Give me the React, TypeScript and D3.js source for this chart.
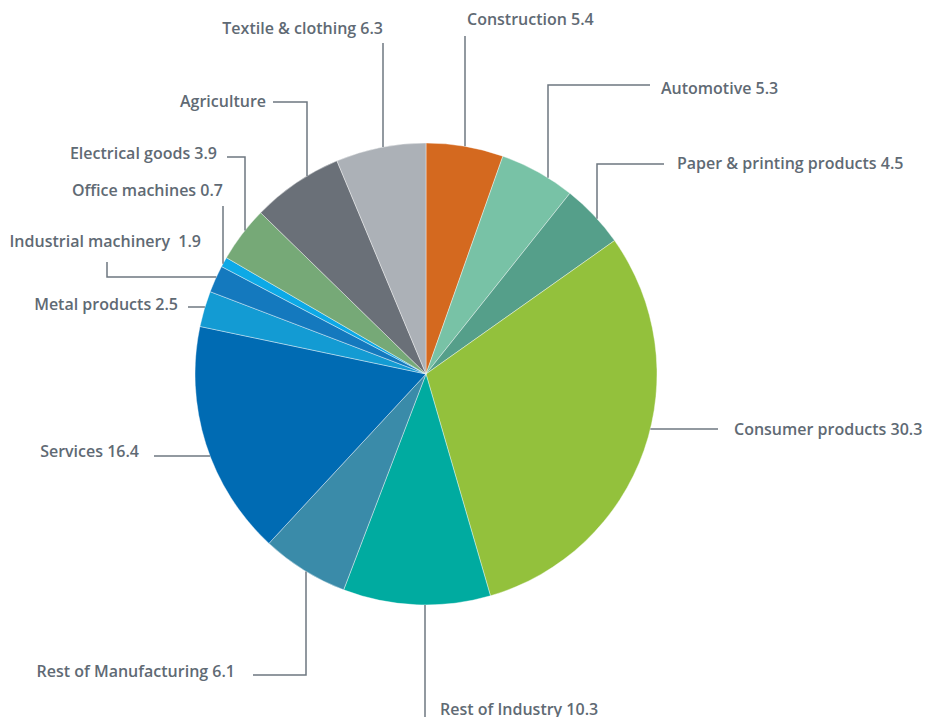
import React from "react";
import * as d3 from "d3";

const categories = [
  "Construction",
  "Automotive",
  "Paper & printing products",
  "Consumer products",
  "Rest of Industry",
  "Rest of Manufacturing",
  "Services",
  "Metal products",
  "Industrial machinery",
  "Office machines",
  "Electrical goods",
  "Agriculture",
  "Textile & clothing",
];
const values = [5.4, 5.3, 4.5, 30.3, 10.3, 6.1, 16.4, 2.5, 1.9, 0.7, 3.9, 6.4, 6.3];
const labelTexts = [
  "Construction 5.4",
  "Automotive 5.3",
  "Paper & printing products 4.5",
  "Consumer products 30.3",
  "Rest of Industry 10.3",
  "Rest of Manufacturing 6.1",
  "Services 16.4",
  "Metal products 2.5",
  "Industrial machinery\u00a0 1.9",
  "Office machines 0.7",
  "Electrical goods 3.9",
  "Agriculture",
  "Textile & clothing 6.3",
];
const colors = [
  "#D4691F", "#78C2A6", "#559F8A", "#93C13C", "#00ABA0", "#3A8BA9", "#006BB3",
  "#139BD3", "#1479BE", "#0DA9E6", "#76A977", "#6A7078", "#ACB1B7",
];

// layout: label text position / anchor, leader points (from label towards pie), last segment direction
type Lay = { tx: number; ty: number; anchor: "start" | "end"; pts: [number, number][]; dir: "v" | "h" };
const layout: Lay[] = [
  { tx: 467, ty: 25, anchor: "start", pts: [[465, 36]], dir: "v" },
  { tx: 661, ty: 94, anchor: "start", pts: [[650, 85], [548, 85]], dir: "v" },
  { tx: 677, ty: 169, anchor: "start", pts: [[664, 164], [597, 164]], dir: "v" },
  { tx: 734, ty: 435, anchor: "start", pts: [[718, 429]], dir: "h" },
  { tx: 440, ty: 715, anchor: "start", pts: [[425, 720]], dir: "v" },
  { tx: 235, ty: 677, anchor: "end", pts: [[253, 675], [306, 675]], dir: "v" },
  { tx: 139, ty: 457, anchor: "end", pts: [[154, 456]], dir: "h" },
  { tx: 178, ty: 310, anchor: "end", pts: [[188, 307]], dir: "h" },
  { tx: 201, ty: 247, anchor: "end", pts: [[107, 262], [107, 277]], dir: "h" },
  { tx: 223, ty: 196, anchor: "end", pts: [[223, 206]], dir: "v" },
  { tx: 217, ty: 159, anchor: "end", pts: [[227, 157], [245, 157]], dir: "v" },
  { tx: 266, ty: 107, anchor: "end", pts: [[273, 102], [307, 102]], dir: "v" },
  { tx: 383, ty: 34, anchor: "end", pts: [[383, 43]], dir: "v" },
];

const W = 926;
const H = 717;
const cx = 426;
const cy = 374;
const R = 231;

export default function App() {
  const data = categories.map((c, i) => ({ c, v: values[i], i }));
  const pie = d3.pie<any>().sort(null).value((d) => d.v);
  const arcs = pie(data);
  const arc = d3.arc<any>().innerRadius(0).outerRadius(R);

  const leaderPath = (l: Lay, i: number) => {
    const last = l.pts[l.pts.length - 1];
    const mid = (arcs[i].startAngle + arcs[i].endAngle) / 2;
    let ex: number, ey: number;
    if (l.dir === "v") {
      ex = last[0];
      const dx = ex - cx;
      const s = Math.sqrt(Math.max(0, R * R - dx * dx));
      ey = Math.cos(mid) > 0 ? cy - s : cy + s;
    } else {
      ey = last[1];
      const dy = ey - cy;
      const s = Math.sqrt(Math.max(0, R * R - dy * dy));
      ex = Math.sin(mid) > 0 ? cx + s : cx - s;
    }
    const all = [...l.pts, [ex, ey]];
    return d3.line()(all as [number, number][]) || "";
  };

  return (
    <svg
      width={W}
      height={H}
      style={{ position: "absolute", left: 0, top: 0, background: "#fff" }}
    >
      <g transform={`translate(${cx},${cy})`}>
        {arcs.map((a, i) => (
          <path key={i} d={arc(a) || ""} fill={colors[i]} stroke="#ffffff" strokeWidth={0.4} />
        ))}
      </g>
      {layout.map((l, i) => (
        <path key={"l" + i} d={leaderPath(l, i)} fill="none" stroke="#6E7780" strokeWidth={1.5} />
      ))}
      {layout.map((l, i) => (
        <text
          key={"t" + i}
          x={l.tx}
          y={l.ty}
          textAnchor={l.anchor}
          fontFamily="'Open Sans', sans-serif"
          fontWeight={600}
          fontSize={16}
          fill="#5F6A74"
          style={{ whiteSpace: "pre" }}
        >
          {labelTexts[i]}
        </text>
      ))}
    </svg>
  );
}
